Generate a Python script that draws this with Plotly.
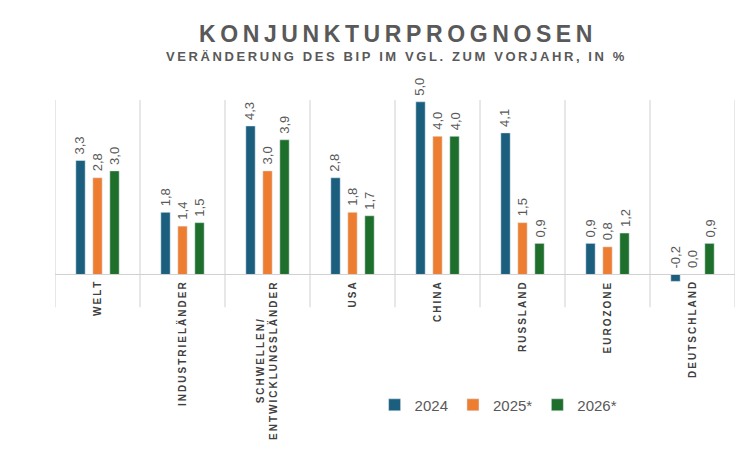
import plotly.graph_objects as go

categories = ["WELT", "INDUSTRIELÄNDER", "SCHWELLEN/<br>ENTWICKLUNGSLÄNDER", "USA", "CHINA", "RUSSLAND", "EUROZONE", "DEUTSCHLAND"]
series_names = ["2024", "2025*", "2026*"]
v2024 = [3.3, 1.8, 4.3, 2.8, 5.0, 4.1, 0.9, -0.2]
v2025 = [2.8, 1.4, 3.0, 1.8, 4.0, 1.5, 0.8, 0.0]
v2026 = [3.0, 1.5, 3.9, 1.7, 4.0, 0.9, 1.2, 0.9]
colors = ["#1b5e7e", "#ed7d31", "#1e6e2c"]

def sp(s, ch="\u200a"):
    return "<br>".join(ch.join(list(p)) for p in s.split("<br>"))

fig = go.Figure()
xs = list(range(len(categories)))
for name, vals, c in zip(series_names, [v2024, v2025, v2026], colors):
    fig.add_bar(x=xs, y=vals, name=name, marker_color=c)

ann = []
for j, vals in enumerate([v2024, v2025, v2026]):
    for i, v in enumerate(vals):
        ann.append(dict(x=i, y=max(v, 0), xref="x", yref="y", text=f"{v:.1f}".replace(".", ","),
                        textangle=-90, showarrow=False, xshift=(j - 1) * 17.5, yanchor="bottom", yshift=4,
                        font=dict(size=13, color="#595959")))
for i, c in enumerate(categories):
    ann.append(dict(x=i, y=0, xref="x", yref="y", text="<b>" + sp(c, "\u2009") + "</b>", textangle=-90,
                    showarrow=False, yanchor="top", yshift=-6, font=dict(size=10, color="#404040")))
ann.append(dict(x=0.5, y=1.31, xref="paper", yref="paper", text="<b>" + sp("KONJUNKTURPROGNOSEN", "\u2009") + "</b>",
                showarrow=False, font=dict(size=23, color="#595959")))
ann.append(dict(x=0.5, y=1.185, xref="paper", yref="paper", text="<b>" + sp("VERÄNDERUNG DES BIP IM VGL. ZUM VORJAHR, IN %", "\u2009") + "</b>",
                showarrow=False, font=dict(size=13, color="#595959")))

shapes = [dict(type="line", x0=k - 0.5, x1=k - 0.5, y0=-0.95, y1=5.05, xref="x", yref="y",
               line=dict(color="#d0d0d0", width=1)) for k in range(len(categories) + 1)]
shapes.append(dict(type="line", x0=-0.5, x1=len(categories) - 0.5, y0=0, y1=0, xref="x", yref="y",
                   line=dict(color="#d0d0d0", width=1)))

fig.update_layout(
    width=749, height=450, margin=dict(l=47, r=22, t=80, b=149, autoexpand=False),
    barmode="group", bargap=0.4, bargroupgap=0.45,
    plot_bgcolor="white", paper_bgcolor="white",
    xaxis=dict(range=[-0.5, len(categories) - 0.5], visible=False),
    yaxis=dict(range=[-1, 5.4], visible=False),
    annotations=ann, shapes=shapes,
    legend=dict(orientation="h", x=0.47, y=-0.36, xanchor="left", yanchor="top",
                font=dict(size=15, color="#595959", family="Liberation Sans")),
    font=dict(family="Liberation Sans"),
)
fig.write_html("out.html")
